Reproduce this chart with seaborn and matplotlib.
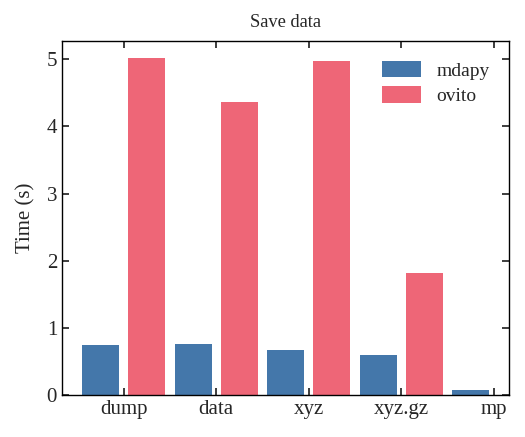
import pandas as pd
import matplotlib.pyplot as plt
import seaborn as sns

# values
formats = ["dump", "data", "xyz", "xyz.gz", "mp"]
mdapy_time = [0.745, 0.76, 0.67, 0.595, 0.075]
ovito_time = [5.015, 4.36, 4.97, 1.815, 0.0]

df = pd.DataFrame({
    "format": formats * 2,
    "time": mdapy_time + ovito_time,
    "package": ["mdapy"] * len(formats) + ["ovito"] * len(formats),
})

sns.set_theme(style="ticks")
plt.rcParams["font.family"] = ["Liberation Serif", "DejaVu Serif"]

fig = plt.figure(figsize=(5.25, 4.37), dpi=100)
ax = fig.add_axes([0.118, 0.096, 0.852, 0.81])

sns.barplot(data=df, x="format", y="time", hue="package",
            palette=["#4477AA", "#EE6677"], width=1.0, gap=0.2,
            saturation=1, linewidth=0, ax=ax)

ax.set_xlim(-0.67, 4.17)
ax.set_ylim(0, 5.27)
ax.set_xlabel("")
ax.set_ylabel("Time (s)", fontsize=15, labelpad=8)
ax.set_title("Save data", fontsize=13.3, pad=10)
ax.tick_params(direction="in", top=True, right=True, labelsize=15, length=5)
for s in ax.spines.values():
    s.set_linewidth(1.0)
    s.set_color("black")

ax.legend(frameon=False, fontsize=14, loc="upper right", handlelength=2.0,
          handleheight=0.95, handletextpad=0.8, labelspacing=0.35,
          borderaxespad=0.6)

fig.savefig("out.png", dpi=100)
